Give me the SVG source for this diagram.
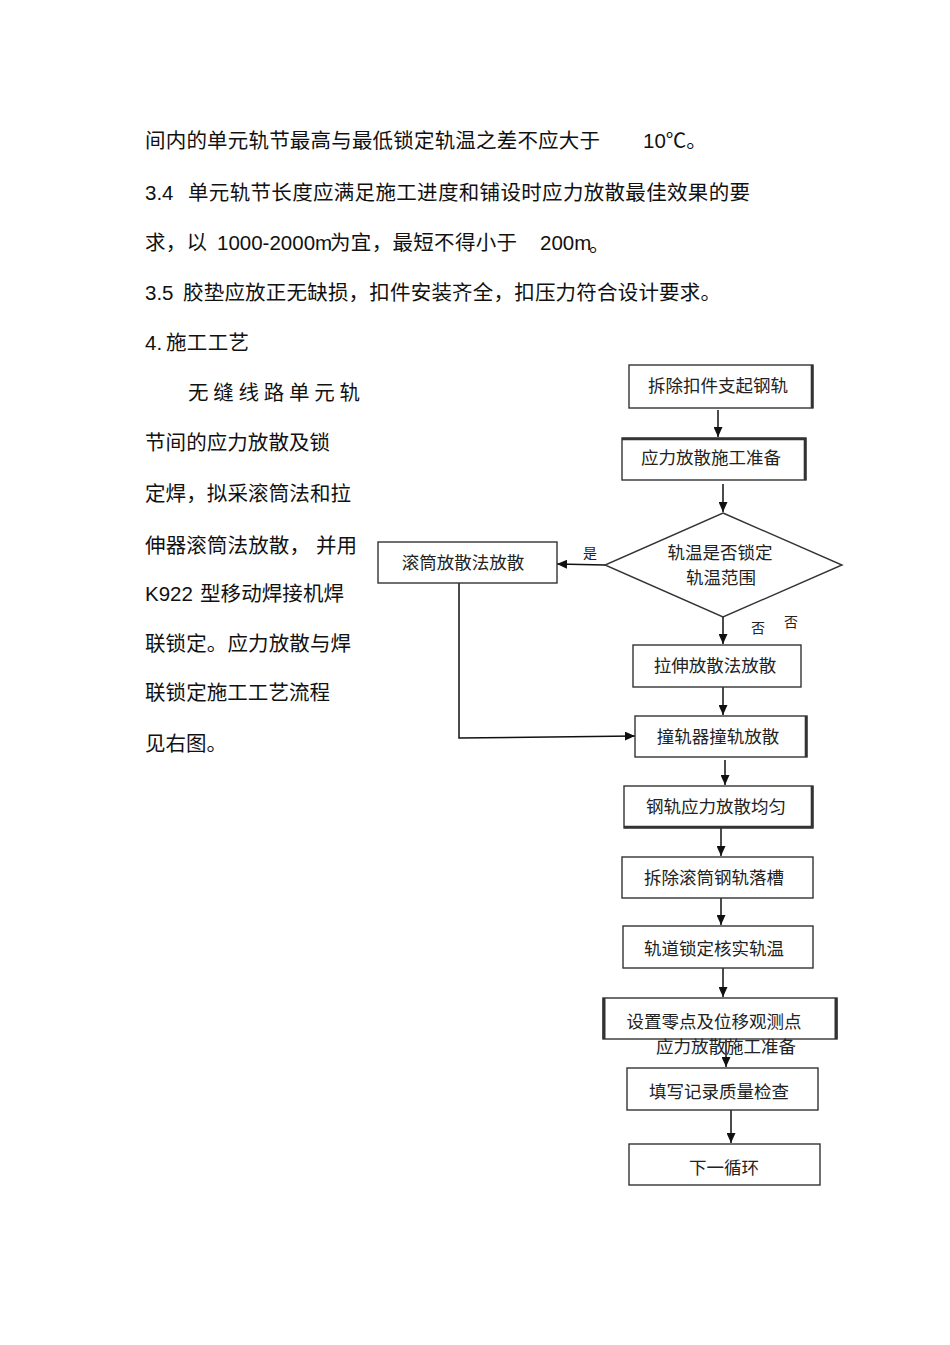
<svg xmlns="http://www.w3.org/2000/svg" width="950" height="1345" viewBox="0 0 950 1345">
<defs>
<marker id="ah" markerUnits="userSpaceOnUse" markerWidth="10" markerHeight="9" refX="10" refY="4.5" orient="auto">
<path d="M0,0 L10,4.5 L0,9 Z" fill="#111"/>
</marker>
<style>
.body{font-family:"Liberation Sans","Noto Sans CJK SC",sans-serif;font-size:20.5px;fill:#111;}
.box{fill:#fff;stroke:#333;stroke-width:1.4;}
.thick{stroke:#333;stroke-width:2.6;fill:none;}
.lbl{font-family:"Liberation Serif","Noto Sans CJK SC",serif;font-size:17.5px;fill:#222;text-anchor:middle;}
.sm{font-family:"Liberation Serif","Noto Sans CJK SC",serif;font-size:14px;fill:#222;text-anchor:middle;}
.con{stroke:#111;stroke-width:1.5;fill:none;marker-end:url(#ah);}
</style>
</defs>
<rect width="950" height="1345" fill="#fff"/>

<g id="body-text">
<text class="body" x="145" y="148" textLength="455" lengthAdjust="spacing">间内的单元轨节最高与最低锁定轨温之差不应大于</text>
<text class="body" x="643" y="148">10℃。</text>
<text class="body" x="145" y="200">3.4</text>
<text class="body" x="188" y="200" textLength="562" lengthAdjust="spacing">单元轨节长度应满足施工进度和铺设时应力放散最佳效果的要</text>
<text class="body" x="145" y="250" textLength="62" lengthAdjust="spacing">求，以</text>
<text class="body" x="217" y="250">1000-2000m</text>
<text class="body" x="330" y="250" textLength="187" lengthAdjust="spacing">为宜，最短不得小于</text>
<text class="body" x="540" y="250" font-size="19">200m</text>
<text class="body" x="589" y="252" font-size="9">。</text>
<text class="body" x="145" y="300">3.5</text>
<text class="body" x="183" y="300" textLength="538" lengthAdjust="spacing">胶垫应放正无缺损，扣件安装齐全，扣压力符合设计要求。</text>
<text class="body" x="145" y="350">4.</text>
<text class="body" x="166" y="350" textLength="83" lengthAdjust="spacing">施工工艺</text>

<text class="body" x="188" y="400" textLength="172" lengthAdjust="spacing">无缝线路单元轨</text>
<text class="body" x="145" y="450" textLength="185" lengthAdjust="spacing">节间的应力放散及锁</text>
<text class="body" x="145" y="501" textLength="206" lengthAdjust="spacing">定焊，拟采滚筒法和拉</text>
<text class="body" x="145" y="553" textLength="165" lengthAdjust="spacing">伸器滚筒法放散，</text>
<text class="body" x="316" y="553" textLength="41" lengthAdjust="spacing">并用</text>
<text class="body" x="145" y="601">K922</text>
<text class="body" x="200" y="601" textLength="144" lengthAdjust="spacing">型移动焊接机焊</text>
<text class="body" x="145" y="651" textLength="206" lengthAdjust="spacing">联锁定。应力放散与焊</text>
<text class="body" x="145" y="700" textLength="185" lengthAdjust="spacing">联锁定施工工艺流程</text>
<text class="body" x="145" y="751" textLength="82" lengthAdjust="spacing">见右图。</text>
</g>

<g id="connectors">
<line class="con" x1="718" y1="410" x2="718" y2="437"/>
<line class="con" x1="723" y1="484" x2="723" y2="512"/>
<line class="con" x1="605" y1="565" x2="557" y2="564"/>
<line class="con" x1="723" y1="617" x2="723" y2="644"/>
<polyline class="con" points="459,583 459,738 635,736"/>
<line class="con" x1="723" y1="687" x2="723" y2="715"/>
<line class="con" x1="725" y1="760" x2="725" y2="785"/>
<line class="con" x1="721" y1="828" x2="721" y2="856"/>
<line class="con" x1="721" y1="898" x2="721" y2="925"/>
<line class="con" x1="723" y1="968" x2="723" y2="997"/>
<line class="con" x1="726" y1="1039" x2="726" y2="1067"/>
<line class="con" x1="731" y1="1110" x2="731" y2="1143"/>
<text class="sm" x="590" y="558">是</text>
<text class="sm" x="758" y="633">否</text>
<text class="sm" x="791" y="627">否</text>
</g>

<g id="n1">
<rect class="box" x="629" y="365" width="184" height="43"/>
<line class="thick" x1="812" y1="365" x2="812" y2="408"/>
<text class="lbl" x="718" y="392">拆除扣件支起钢轨</text>
</g>
<g id="n2">
<rect class="box" x="622" y="438" width="184" height="42"/>
<line class="thick" x1="622" y1="439" x2="806" y2="439"/>
<line class="thick" x1="805" y1="438" x2="805" y2="480"/>
<text class="lbl" x="711" y="464">应力放散施工准备</text>
</g>
<g id="n3">
<polygon class="box" points="723,513 842,565 723,617 605,565"/>
<text class="lbl" x="720" y="559">轨温是否锁定</text>
<text class="lbl" x="721" y="584">轨温范围</text>
</g>
<g id="n4">
<rect class="box" x="378" y="542" width="179" height="41"/>
<text class="lbl" x="463" y="569">滚筒放散法放散</text>
</g>
<g id="n5">
<rect class="box" x="633" y="645" width="168" height="42"/>
<text class="lbl" x="715" y="672">拉伸放散法放散</text>
</g>
<g id="n6">
<rect class="box" x="635" y="716" width="172" height="41"/>
<line class="thick" x1="806" y1="716" x2="806" y2="757"/>
<text class="lbl" x="718" y="743">撞轨器撞轨放散</text>
</g>
<g id="n7">
<rect class="box" x="624" y="786" width="189" height="42"/>
<line class="thick" x1="624" y1="827" x2="813" y2="827"/>
<line class="thick" x1="812" y1="786" x2="812" y2="828"/>
<text class="lbl" x="716" y="813">钢轨应力放散均匀</text>
</g>
<g id="n8">
<rect class="box" x="622" y="857" width="191" height="41"/>
<text class="lbl" x="714" y="884">拆除滚筒钢轨落槽</text>
</g>
<g id="n9">
<rect class="box" x="623" y="926" width="190" height="42"/>
<text class="lbl" x="714" y="955">轨道锁定核实轨温</text>
</g>
<g id="n10">
<rect class="box" x="603" y="998" width="234" height="41"/>
<line class="thick" x1="604" y1="998" x2="604" y2="1039" style="stroke-width:3"/>
<line class="thick" x1="836" y1="998" x2="836" y2="1039" style="stroke-width:3"/>
<text class="lbl" x="714" y="1028">设置零点及位移观测点</text>
<text class="lbl" x="726" y="1053">应力放散施工准备</text>
</g>
<g id="n11">
<rect class="box" x="627" y="1068" width="191" height="42"/>
<text class="lbl" x="719" y="1098">填写记录质量检查</text>
</g>
<g id="n12">
<rect class="box" x="629" y="1144" width="191" height="41"/>
<text class="lbl" x="724" y="1174">下一循环</text>
</g>
</svg>
